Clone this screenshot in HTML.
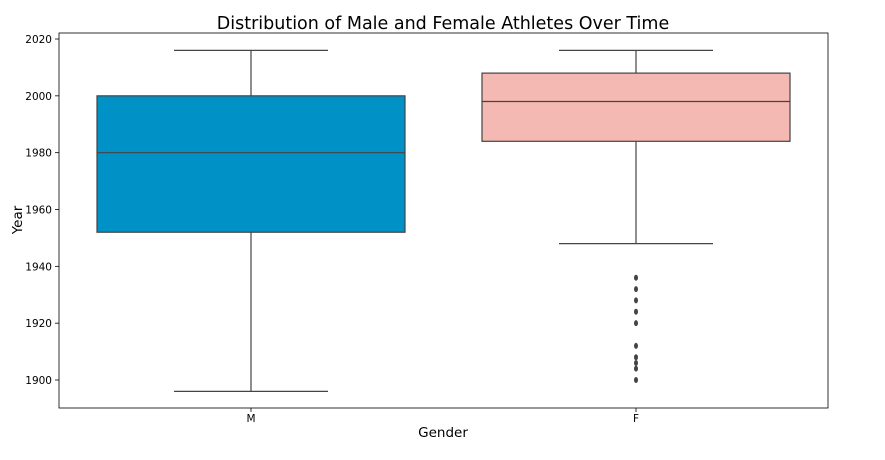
<!DOCTYPE html>
<html><head><meta charset="utf-8"><style>
body{margin:0;background:#fff;font-family:"Liberation Sans","DejaVu Sans",sans-serif;}
</style></head><body>
<svg id="chart" width="885" height="455" xmlns="http://www.w3.org/2000/svg" font-family="'DejaVu Sans','Liberation Sans',sans-serif">
<rect width="885" height="455" fill="#fff"/>
<text x="443" y="29" text-anchor="middle" font-size="17.5" fill="#000">Distribution of Male and Female Athletes Over Time</text>
<text x="443" y="437" text-anchor="middle" font-size="13.5">Gender</text>
<text transform="translate(22,220) rotate(-90)" text-anchor="middle" font-size="13.5">Year</text>
<g id="plot"></g>
<rect x="59" y="33" width="769" height="375" fill="none" stroke="#000" stroke-width="0.8"/>
</svg>
<script>
const categories = ["M","F"];
const colors = ["#0092c7","#f4b9b2"];
const whiskerLow = [1896,1948];
const q1 = [1952,1984];
const medians = [1980,1998];
const q3 = [2000,2008];
const whiskerHigh = [2016,2016];
const outliersF = [1900,1904,1906,1908,1912,1920,1924,1928,1932,1936];
const yTicks = [1900,1920,1940,1960,1980,2000,2020];

const NS="http://www.w3.org/2000/svg";
const g=document.getElementById('plot');
function y(v){return 380-(v-1900)*341/120;}
function xc(i){return 251+i*385;}
const boxW=308;
function el(t,a){const e=document.createElementNS(NS,t);for(const k in a)e.setAttribute(k,a[k]);g.appendChild(e);return e;}
yTicks.forEach(t=>{
  const l=el('line',{x1:55,x2:59,y1:y(t),y2:y(t),stroke:'#000','stroke-width':0.8});
  
  
  const tx=el('text',{x:52,y:y(t)+4,'text-anchor':'end','font-size':10.5});
  tx.textContent=t;
  
  
});
const ln='#444';
categories.forEach((c,i)=>{
  const cx=xc(i);
  const w1=el('line',{x1:cx,x2:cx,y1:y(whiskerLow[i]),y2:y(q1[i]),stroke:ln,'stroke-width':1.2});
  
  
  const w2=el('line',{x1:cx,x2:cx,y1:y(q3[i]),y2:y(whiskerHigh[i]),stroke:ln,'stroke-width':1.2});
  
  
  [whiskerLow[i],whiskerHigh[i]].forEach(v=>{
    const cap=el('line',{x1:cx-boxW/4,x2:cx+boxW/4,y1:y(v),y2:y(v),stroke:ln,'stroke-width':1.2});
    
    
  });
  const b=el('rect',{x:cx-boxW/2,y:y(q3[i]),width:boxW,height:y(q1[i])-y(q3[i]),fill:colors[i],stroke:ln,'stroke-width':1.2});
  
  
  const m=el('line',{x1:cx-boxW/2,x2:cx+boxW/2,y1:y(medians[i]),y2:y(medians[i]),stroke:ln,'stroke-width':1.2});
  
  
  const tk=el('line',{x1:cx,x2:cx,y1:408,y2:412,stroke:'#000','stroke-width':0.8});
  
  
  const tl=el('text',{x:cx,y:422,'text-anchor':'middle','font-size':10.5});
  tl.textContent=c;
  
  
});
outliersF.forEach(v=>{
  const o=el('ellipse',{cx:xc(1),cy:y(v),rx:2,ry:3,fill:'#444'});
  
  
});
</script>
</body></html>
